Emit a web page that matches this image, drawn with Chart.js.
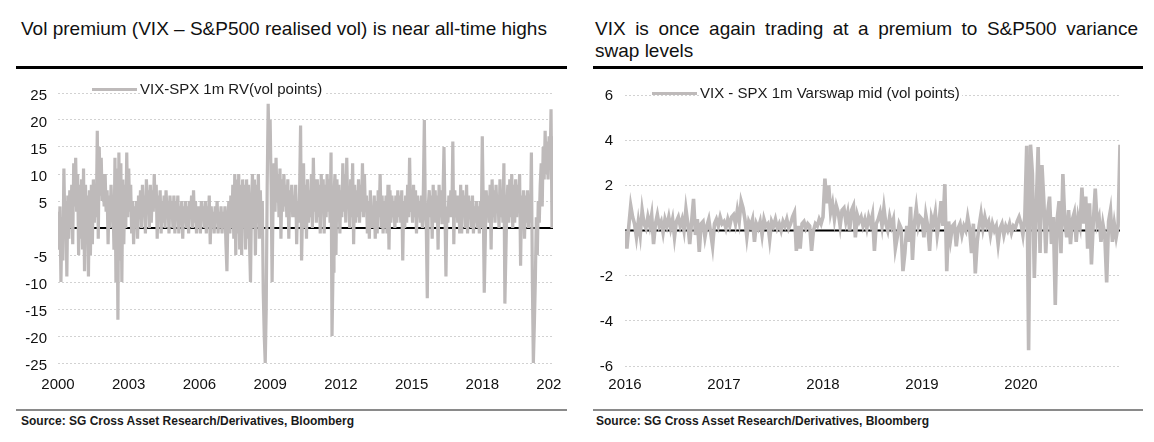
<!DOCTYPE html>
<html><head><meta charset="utf-8">
<script src="https://cdn.jsdelivr.net/npm/chart.js@4/dist/chart.umd.min.js"></script>
<style>
html,body{margin:0;padding:0;background:#fff;width:1154px;height:442px;overflow:hidden;font-family:"Liberation Sans",Arial,sans-serif;}
.abs{position:absolute;}
.title{font-size:19px;color:#111;line-height:22px;white-space:nowrap;}
.rule{height:3px;background:#000;}
.brule{height:2px;background:#8a8a8a;}
.src{font-size:12px;font-weight:bold;color:#1a1a1a;line-height:14px;white-space:nowrap;}
.leg{font-size:15px;color:#1a1a1a;background:#fff;line-height:16px;padding-right:2px;white-space:nowrap;z-index:5;}
.legline{height:3px;background:#bebaba;z-index:5;}
canvas{position:absolute;}
</style></head><body>
<div class="abs title" style="left:21px;top:18px;">Vol premium (VIX – S&amp;P500 realised vol) is near all-time highs</div>
<div class="abs title" style="left:595px;top:18px;width:543px;text-align:justify;text-align-last:justify;">VIX is once again trading at a premium to S&amp;P500 variance</div>
<div class="abs title" style="left:595px;top:40px;">swap levels</div>
<div class="abs rule" style="left:16px;top:66px;width:551px;"></div>
<div class="abs rule" style="left:593px;top:66px;width:550px;"></div>

<canvas id="c1" width="561" height="330" style="left:0px;top:70px;width:561px;height:330px;"></canvas>
<canvas id="c2" width="565" height="330" style="left:580px;top:70px;width:565px;height:330px;"></canvas>

<div class="abs legline" style="left:92px;top:88px;width:45px;"></div>
<div class="abs leg" id="leg1" style="left:140px;top:81px;"></div>
<div class="abs legline" style="left:652px;top:92px;width:45px;"></div>
<div class="abs leg" id="leg2" style="left:700px;top:85px;"></div>

<div class="abs brule" style="left:16px;top:409px;width:551px;"></div>
<div class="abs brule" style="left:593px;top:409px;width:550px;"></div>
<div class="abs src" style="left:21px;top:414px;">Source: SG Cross Asset Research/Derivatives, Bloomberg</div>
<div class="abs src" style="left:596px;top:414px;">Source: SG Cross Asset Research/Derivatives, Bloomberg</div>

<script>
// ---------- data ----------
const leftLabel = 'VIX-SPX 1m RV(vol points)';
const rightLabel = 'VIX - SPX 1m Varswap mid (vol points)';

const leftTickYears = [2000, 2003, 2006, 2009, 2012, 2015, 2018, 2021];
const leftYTicks = [-25, -20, -15, -10, -5, 0, 5, 10, 15, 20, 25];
const rightTickYears = [2016, 2017, 2018, 2019, 2020];
const rightYTicks = [-6, -4, -2, 0, 2, 4, 6];

const leftStartYear = 2000, leftPointsPerYear = 24;   // semi-monthly readings
const rightStartYear = 2016, rightPointsPerYear = 52; // weekly readings

// VIX minus SPX 1m realised vol (vol points), 2000 .. Jan 2021
const leftSpread = [
  3,-4,4,-10,2,-6,11,0,5,-9,6,-2,7,0,8,-3,12,4,13,3,10,-5,8,-2,            // 2000
  9,-4,11,-8,8,-2,6,-9,7,-5,8,-3,9,1,7,2,18,-2,15,6,13,5,10,4,             // 2001
  10,3,7,-3,6,0,8,2,5,-4,13,-10,11,-17,14,-6,12,-10,9,-3,8,0,14,2,         // 2002
  11,3,8,-1,5,-3,4,0,5,-2,6,2,7,0,8,2,6,-1,9,4,7,0,8,1,                    // 2003
  7,3,10,4,8,-2,6,2,7,-1,5,1,6,0,7,3,5,-1,6,2,5,0,6,-1,                    // 2004
  5,2,6,-1,4,2,5,-2,4,1,5,0,4,-1,5,2,6,0,7,1,5,-1,4,0,                     // 2005
  4,-1,5,2,4,0,5,-1,4,1,6,-3,4,0,3,-1,4,1,5,-1,3,0,4,-1,                   // 2006
  3,0,4,-3,-8,2,5,-1,6,0,8,-2,10,-5,9,-1,10,-4,8,-5,9,0,8,-4,              // 2007
  9,-2,8,-3,-10,4,10,0,9,-5,8,1,10,-2,7,0,5,-12,-20,-25,-15,8,23,14,       // 2008
  20,8,-10,5,12,3,13,5,10,2,11,-2,9,3,10,4,8,2,9,-2,7,3,8,2,               // 2009
  6,2,8,-3,5,1,7,19,-6,3,12,0,8,-2,9,1,7,2,10,0,13,3,9,1,                  // 2010
  9,2,8,-1,10,3,9,-1,8,2,10,3,9,1,14,-20,-8,6,10,-5,9,2,8,-1,              // 2011
  7,2,12,3,10,1,13,4,7,0,9,2,12,-3,8,1,7,2,9,1,8,3,12,2,                   // 2012
  10,3,6,-1,5,-2,7,0,4,0,6,-2,5,-1,7,2,10,0,6,-1,5,0,6,-1,                 // 2013
  8,-4,7,1,6,2,5,0,6,1,7,2,6,1,7,-6,5,0,6,1,8,2,13,3,                      // 2014
  6,1,8,2,7,-1,6,2,5,1,6,0,7,20,3,0,-13,4,7,2,6,-2,8,1,                    // 2015
  7,1,6,-4,8,2,7,1,6,15,3,-9,4,1,6,2,7,2,16,-3,7,2,6,1,                    // 2016
  6,-1,8,-1,7,2,6,0,8,-1,6,2,5,0,6,-1,4,1,5,0,4,-1,5,0,                    // 2017
  17,4,-12,-3,7,2,6,1,8,-4,9,2,7,1,8,3,6,0,9,2,7,1,12,-14,                 // 2018
  -5,4,8,1,9,2,10,0,8,1,9,2,8,3,10,-7,6,1,7,-2,6,1,7,0,                    // 2019
  6,1,14,-10,-25,-18,-10,2,-5,5,1,8,12,4,15,9,18,10,16,9,17,11,22,0,       // 2020
  17                                                                       // Jan 2021
];

// VIX minus SPX 1m variance swap mid (vol points), weekly 2016 .. Jan 2021
const rightSpread = [
  // 2016
  0.0,-0.8,0.2,1.1,0.6,0.3,-0.3,0.4,-0.2,0.9,0.3,0.1,
  0.6,0.2,0.7,-0.6,0.3,0.7,0.2,0.4,-0.1,0.5,0.2,0.6,
  0.1,0.5,-0.3,0.4,0.6,0.2,0.5,0.0,0.95,0.3,-0.6,0.4,
  1.4,-0.2,0.5,-0.95,0.3,0.4,-0.3,0.2,0.5,-0.1,-0.7,0.3,
  0.5,0.2,0.6,0.3,
  // 2017
  0.4,0.1,0.5,0.2,0.6,0.7,0.3,0.9,0.4,1.3,1.0,0.5,
  -0.3,0.4,0.2,0.5,-0.5,0.3,0.1,0.4,-0.2,0.5,0.2,0.3,
  -0.4,0.4,0.2,0.5,0.1,0.3,0.0,0.4,0.2,0.5,0.1,0.3,
  0.6,0.8,-0.9,0.2,-0.8,0.3,0.4,0.1,0.3,0.2,-0.9,0.0,
  0.3,0.2,0.5,0.3,
  // 2018
  0.6,2.3,1.2,2.0,0.8,1.2,0.5,1.1,0.8,0.2,0.9,1.0,
  0.4,0.8,0.0,0.9,1.1,-0.3,0.7,0.4,0.6,0.2,0.5,0.1,
  0.6,0.3,0.7,-0.9,0.3,0.5,0.8,0.2,1.0,0.3,0.0,0.6,
  0.2,0.5,-0.8,-0.3,0.3,0.1,-1.8,-1.0,0.2,-0.5,1.05,-1.3,
  0.3,1.0,0.2,0.6,
  // 2019
  0.5,-0.3,0.7,0.2,-0.9,0.6,0.3,0.8,-0.2,0.4,1.3,0.2,
  2.05,-1.8,0.4,-0.4,0.2,0.3,-0.7,0.1,0.3,-0.2,0.2,0.0,
  0.6,0.1,-1.0,0.3,-1.9,-0.5,0.2,0.75,0.1,0.6,0.2,0.4,
  -0.2,0.3,0.0,0.2,-0.6,0.1,0.3,-0.2,0.2,0.0,0.3,-0.1,
  0.2,0.1,0.4,0.6,
  // 2020
  0.3,-0.2,0.6,3.75,-5.3,3.8,2.5,-2.1,1.0,3.7,-1.0,2.9,
  1.3,-1.0,0.8,1.5,-0.6,0.6,-3.3,0.5,1.3,-1.0,2.5,0.4,
  -0.3,0.9,-0.6,0.5,0.8,-0.5,0.6,0.2,1.9,0.3,1.5,-0.8,
  1.2,-1.5,0.4,1.85,0.3,0.6,-0.5,0.3,-0.2,-2.3,0.4,0.9,
  -0.5,0.3,-0.3,0.2,
  // Jan 2021
  3.8
];

// ---------- chart ----------
const FONT = '"Liberation Sans", Arial, sans-serif';
const SERIES_COLOR = '#bebaba';
document.getElementById('leg1').textContent = leftLabel;
document.getElementById('leg2').textContent = rightLabel;

function build(id, o) {
  const pts = o.values.map((v, i) => ({ x: o.start + i / o.per, y: v }));
  return new Chart(document.getElementById(id), {
    type: 'line',
    data: {
      datasets: [
        { label: o.label, data: pts, borderColor: SERIES_COLOR, borderWidth: o.lw,
          pointRadius: 0, tension: 0, order: 1 },
        { label: 'zero', data: [{ x: o.xMin, y: 0 }, { x: o.xMax, y: 0 }],
          borderColor: '#000', borderWidth: 2, pointRadius: 0, order: 2 }
      ]
    },
    options: {
      responsive: false, animation: false, devicePixelRatio: 1,
      layout: { padding: o.pad },
      plugins: { legend: { display: false }, tooltip: { enabled: false } },
      scales: {
        x: {
          type: 'linear', min: o.xMin, max: o.xMax,
          grid: { display: false, drawTicks: false }, border: { display: false },
          afterBuildTicks: s => { s.ticks = o.xTicks.map(v => ({ value: v })); },
          afterFit: s => { s.height = o.xH; s.paddingLeft = 0; s.paddingRight = 0; },
          ticks: { autoSkip: false, maxRotation: 0, minRotation: 0, padding: o.xPad,
                   color: '#111', font: { family: FONT, size: 15 }, callback: v => String(v) }
        },
        y: {
          min: o.yTicks[0], max: o.yTicks[o.yTicks.length - 1],
          grid: { color: '#d2d2d2', lineWidth: 1, drawTicks: false },
          border: { display: false, dash: [2, 2] },
          afterBuildTicks: s => { s.ticks = o.yTicks.map(v => ({ value: v })); },
          afterFit: s => { s.width = o.yW; },
          ticks: { padding: o.yPad, labelOffset: o.yOff, color: '#111',
                   font: { family: FONT, size: 15 }, callback: v => (v === 0 ? '' : String(v)) }
        }
      }
    }
  });
}

build('c1', { values: leftSpread, start: leftStartYear, per: leftPointsPerYear, label: leftLabel, lw: 3.2,
  xMin: 2000, xMax: 2021, xTicks: leftTickYears, yTicks: leftYTicks,
  pad: { top: 23, right: 8, left: 0, bottom: 0 }, xH: 37, xPad: 13, yW: 58, yPad: 11, yOff: 3 });

build('c2', { values: rightSpread, start: rightStartYear, per: rightPointsPerYear, label: rightLabel, lw: 3.6,
  xMin: 2016, xMax: 2021, xTicks: rightTickYears, yTicks: rightYTicks,
  pad: { top: 25, right: 25, left: 0, bottom: 0 }, xH: 34, xPad: 10, yW: 45, yPad: 12, yOff: 1 });
</script>
</body></html>
